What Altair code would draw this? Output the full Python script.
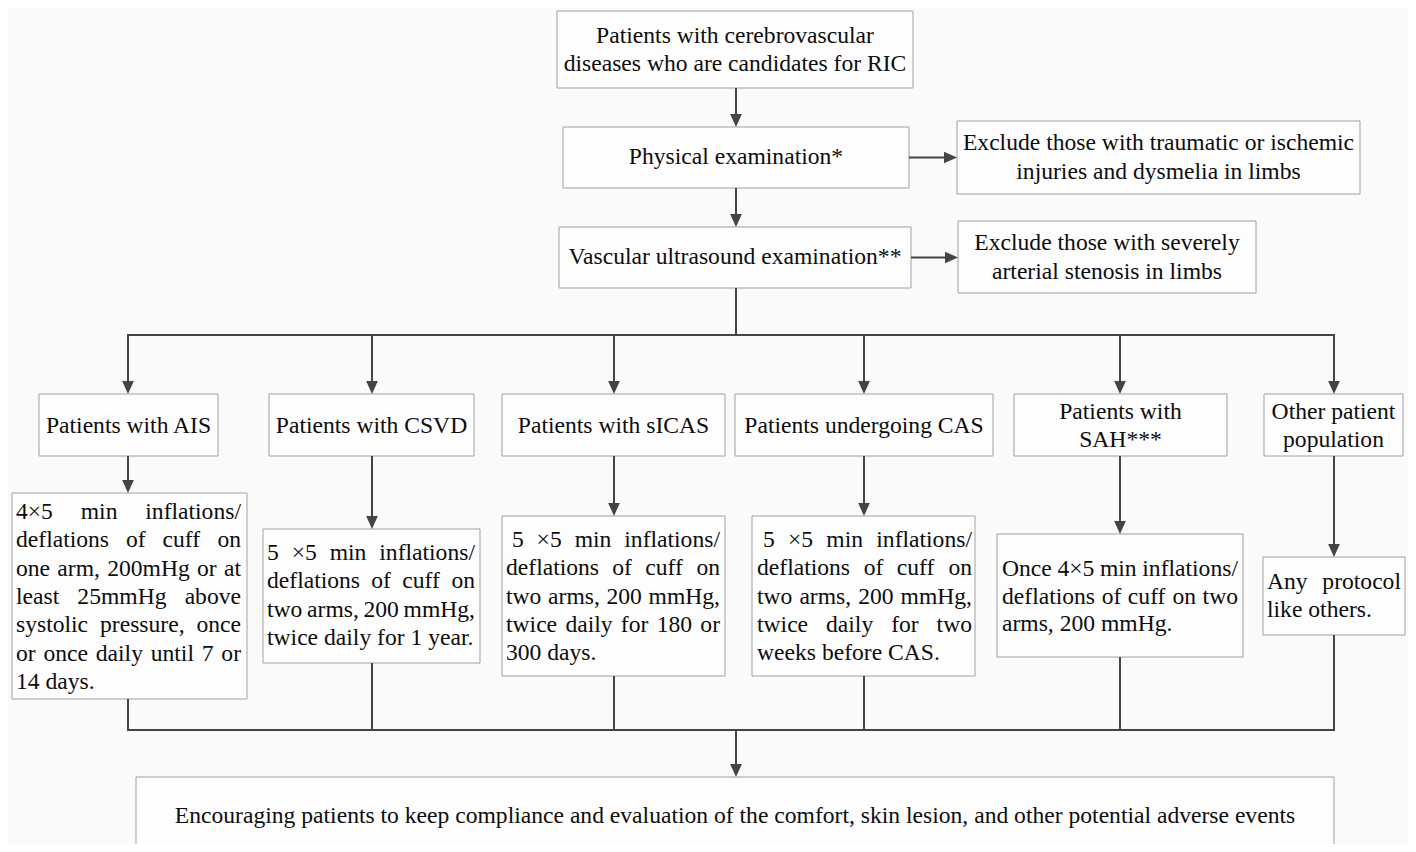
import altair as alt
import pandas as pd

# ---------------- text content ----------------
top_lines = ["Patients with cerebrovascular", "diseases who are candidates for RIC"]
phys_lines = ["Physical examination*"]
vasc_lines = ["Vascular ultrasound examination**"]
excl1_lines = ["Exclude those with traumatic or ischemic", "injuries and dysmelia in limbs"]
excl2_lines = ["Exclude those with severely", "arterial stenosis in limbs"]
group_lines = [
    ["Patients with AIS"],
    ["Patients with CSVD"],
    ["Patients with sICAS"],
    ["Patients undergoing CAS"],
    ["Patients with", "SAH***"],
    ["Other patient", "population"],
]
protocol_lines = [
    ["4×5 min inflations/", "deflations of cuff on", "one arm, 200mHg or at",
     "least 25mmHg above", "systolic pressure, once", "or once daily until 7 or", "14 days."],
    ["5 ×5 min inflations/", "deflations of cuff on", "two arms, 200 mmHg,",
     "twice daily for 1 year."],
    [" 5 ×5 min inflations/", "deflations of cuff on", "two arms, 200 mmHg,",
     "twice daily for 180 or", "300 days."],
    [" 5 ×5 min inflations/", "deflations of cuff on", "two arms, 200 mmHg,",
     "twice daily for two", "weeks before CAS."],
    ["Once 4×5 min inflations/", "deflations of cuff on two", "arms, 200 mmHg."],
    ["Any protocol", "like others."],
]
bottom_lines = ["Encouraging patients to keep compliance and evaluation of the comfort, skin lesion, and other potential adverse events"]

# ---------------- layout (pixel coordinates of the figure) ----------------
FONT = "Liberation Serif, Times New Roman, Times, serif"
FS = 23.6
LINE_COLOR = "#444444"
BOX_STROKE = "#a0a0a0"
TEXT_COLOR = "#0d0d0d"

top_box = (557, 11, 913, 88)
phys_box = (563, 127, 909, 188)
vasc_box = (559, 227, 911, 288)
excl1_box = (957, 121, 1360, 194)
excl2_box = (958, 221, 1256, 293)
group_boxes = [(39, 394, 218, 456), (269, 394, 474, 456), (502, 394, 725, 456),
               (735, 394, 993, 456), (1014, 394, 1227, 456), (1264, 394, 1403, 456)]
protocol_boxes = [(12, 493, 247, 699), (263, 529, 480, 663), (502, 516, 725, 676),
                  (752, 516, 975, 676), (997, 534, 1243, 657), (1263, 557, 1405, 635)]
bottom_box = (136, 777, 1334, 880)

# text frames of protocol boxes: left, right, first line y, line spacing
protocol_text = [(16, 241, 512, 28.3), (267, 475, 553, 28.3), (506, 720, 540, 28.3),
                 (757, 972, 540, 28.3), (1002, 1238, 569, 27.5), (1267, 1401, 582, 28.0)]

branch_y = 335
merge_y = 730
center_x = 736

# Times / Liberation Serif advance widths (per 1000 em)
WID = {" ": 250, "*": 500, ",": 250, ".": 250, "/": 278, "×": 564,
       "A": 722, "C": 667, "D": 722, "E": 611, "G": 722, "H": 722, "I": 333,
       "O": 722, "P": 556, "R": 667, "S": 556, "V": 722,
       "a": 444, "b": 500, "c": 444, "d": 500, "e": 444, "f": 333, "g": 500, "h": 500,
       "i": 278, "j": 278, "k": 500, "l": 278, "m": 778, "n": 500, "o": 500, "p": 500,
       "q": 500, "r": 333, "s": 389, "t": 278, "u": 500, "v": 500, "w": 722, "x": 500,
       "y": 500, "z": 444}
for d in "0123456789":
    WID[d] = 500


def tw(s):
    return sum(WID.get(c, 500) for c in s) * FS / 1000.0


# ---------------- build tables ----------------
boxes = [top_box, phys_box, vasc_box, excl1_box, excl2_box] + group_boxes + protocol_boxes + [bottom_box]
box_df = pd.DataFrame([{"x": b[0], "y": b[1], "x2": b[2], "y2": b[3]} for b in boxes])

rules = []
arrows_down = []
arrows_right = []
AH = 13  # arrow head length


def down(x, y0, y1, arrow=True):
    rules.append({"x": x, "y": y0, "x2": x, "y2": y1 - (AH / 2 if arrow else 0)})
    if arrow:
        arrows_down.append({"x": x, "y": y1 - AH / 2})


def right(y, x0, x1):
    rules.append({"x": x0, "y": y, "x2": x1 - AH / 2, "y2": y})
    arrows_right.append({"x": x1 - AH / 2, "y": y})


down(center_x, top_box[3], phys_box[1])
down(center_x, phys_box[3], vasc_box[1])
right((phys_box[1] + phys_box[3]) / 2, phys_box[2], excl1_box[0])
right((vasc_box[1] + vasc_box[3]) / 2, vasc_box[2], excl2_box[0])
down(center_x, vasc_box[3], branch_y + 1, arrow=False)
gx = [round((b[0] + b[2]) / 2) for b in group_boxes]
rules.append({"x": gx[0], "y": branch_y, "x2": gx[-1], "y2": branch_y})
rules.append({"x": gx[0], "y": merge_y, "x2": gx[-1], "y2": merge_y})
for x, gb, pb in zip(gx, group_boxes, protocol_boxes):
    down(x, branch_y - 1, gb[1])
    down(x, gb[3], pb[1])
    down(x, pb[3], merge_y + 1, arrow=False)
down(center_x, merge_y, bottom_box[1])

rule_df = pd.DataFrame(rules)
adown_df = pd.DataFrame(arrows_down)
aright_df = pd.DataFrame(arrows_right)

# centered text
ctext = []


def centered(lines, box, ys):
    cx = (box[0] + box[2]) / 2
    for t, y in zip(lines, ys):
        ctext.append({"x": cx, "y": y, "t": t})


centered(top_lines, top_box, [36, 64])
centered(phys_lines, phys_box, [157])
centered(vasc_lines, vasc_box, [257])
centered(excl1_lines, excl1_box, [143, 172])
centered(excl2_lines, excl2_box, [243, 272])
for lines, b in zip(group_lines, group_boxes):
    ys = [426] if len(lines) == 1 else [412, 440]
    centered(lines, b, ys)
centered(bottom_lines, bottom_box, [816])
ctext_df = pd.DataFrame(ctext)

# justified text (word by word)
ltext = []
for lines, (left, rt, y0, dy) in zip(protocol_lines, protocol_text):
    for i, line in enumerate(lines):
        y = y0 + i * dy
        indent = tw(" ") if line.startswith(" ") else 0.0
        words = line.strip().split(" ")
        last = i == len(lines) - 1
        if last or len(words) == 1:
            gap = tw(" ")
        else:
            total = sum(tw(w) for w in words)
            gap = (rt - left - indent - total) / (len(words) - 1)
        x = left + indent
        for w in words:
            ltext.append({"x": x, "y": y, "t": w})
            x += tw(w) + gap
ltext_df = pd.DataFrame(ltext)

# ---------------- chart ----------------
XS = alt.Scale(domain=[8, 1408], nice=False, zero=False)
YS = alt.Scale(domain=[8, 844], nice=False, zero=False, reverse=True)

rect = alt.Chart(box_df).mark_rect(fill="#fdfdfd", stroke=BOX_STROKE, strokeWidth=1, clip=True).encode(
    x=alt.X("x:Q", scale=XS, axis=None), x2="x2:Q",
    y=alt.Y("y:Q", scale=YS, axis=None), y2="y2:Q")

rule = alt.Chart(rule_df).mark_rule(color=LINE_COLOR, strokeWidth=2).encode(
    x=alt.X("x:Q", scale=XS, axis=None), x2="x2:Q",
    y=alt.Y("y:Q", scale=YS, axis=None), y2="y2:Q")

adown = alt.Chart(adown_df).mark_point(
    shape="M-0.9,-1 L0.9,-1 L0,1 Z", filled=True, size=AH * AH, color=LINE_COLOR, opacity=1).encode(
    x=alt.X("x:Q", scale=XS, axis=None), y=alt.Y("y:Q", scale=YS, axis=None))

aright = alt.Chart(aright_df).mark_point(
    shape="M-1,-0.9 L1,0 L-1,0.9 Z", filled=True, size=AH * AH, color=LINE_COLOR, opacity=1).encode(
    x=alt.X("x:Q", scale=XS, axis=None), y=alt.Y("y:Q", scale=YS, axis=None))

ctxt = alt.Chart(ctext_df).mark_text(
    align="center", baseline="middle", font=FONT, fontSize=FS, color=TEXT_COLOR).encode(
    x=alt.X("x:Q", scale=XS, axis=None), y=alt.Y("y:Q", scale=YS, axis=None), text="t:N")

ltxt = alt.Chart(ltext_df).mark_text(
    align="left", baseline="middle", font=FONT, fontSize=FS, color=TEXT_COLOR).encode(
    x=alt.X("x:Q", scale=XS, axis=None), y=alt.Y("y:Q", scale=YS, axis=None), text="t:N")

chart = alt.layer(rect, rule, adown, aright, ctxt, ltxt).properties(
    width=1400, height=836, padding=0, background="#fafafa"
).configure_view(stroke=None)

chart.save("out.html", embed_options={"renderer": "svg", "actions": False})
